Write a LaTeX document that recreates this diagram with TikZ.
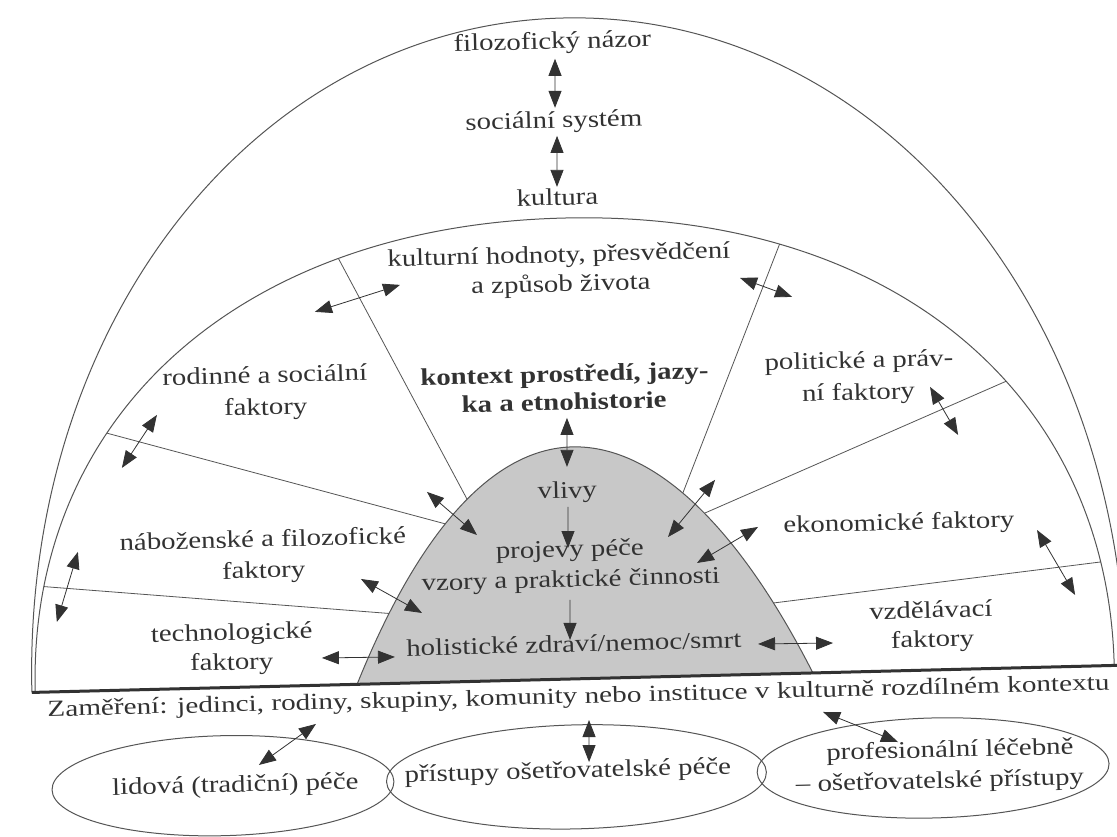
\documentclass[tikz,border=0pt]{standalone}
\usepackage{fontspec}
\setmainfont{Liberation Serif}[FakeStretch=1.2]
\newfontfamily\zamfont{Liberation Serif}[FakeStretch=1.27]
\usetikzlibrary{arrows.meta}
\definecolor{ink}{RGB}{50,50,50}
\definecolor{linec}{RGB}{85,85,85}
\definecolor{domegray}{RGB}{200,200,200}
\begin{document}
\begin{tikzpicture}[x=1pt,y=-1pt,
  lbl/.style={anchor=base, inner sep=0pt, text=ink, font=\fontsize{24}{28}\selectfont},
  lblb/.style={lbl, font=\fontsize{24}{28}\selectfont\bfseries},
  arcline/.style={draw=linec, line width=1pt},
  divline/.style={draw=linec, line width=0.8pt},
  biarr/.style={arrows={Triangle[length=17pt,width=13pt]-Triangle[length=17pt,width=13pt]}, draw=ink, line width=0.8pt},
  onearr/.style={arrows={-Triangle[length=17pt,width=13pt]}, draw=ink, line width=0.8pt}]
\useasboundingbox (0,0) rectangle (1117,836);
\fill[white] (0,0) rectangle (1117,836);
\clip (0,0) rectangle (1117,836);
\begin{scope}[rotate around={1.43:(570,679)}, transform shape]
% outer arc
\draw[arcline] (31.7,679) .. controls (31.7,309) and (272.7,18) .. (579,18)
  .. controls (885.3,18) and (1126,309) .. (1126,679);
% inner arc
\draw[arcline] (35,679) .. controls (35,402.4) and (250.9,218) .. (574.7,218)
  .. controls (898.5,218) and (1114.4,402.4) .. (1114.4,679);
% dividers
\begin{scope}
\clip (35,679) .. controls (35,402.4) and (250.9,218) .. (574.7,218)
  .. controls (898.5,218) and (1114.4,402.4) .. (1114.4,679) -- cycle;
\draw[divline] (482.5,518.4) -- (336,227);
\draw[divline] (676.2,522.8) -- (801.3,223.3);
\draw[divline] (477,529) -- (80.1,411.9);
\draw[divline] (673.6,530.9) -- (1039.9,381.4);
\draw[divline] (418.4,611.8) -- (13.6,570.1);
\draw[divline] (742.1,611.4) -- (1135.7,572);
\end{scope}
% dome
\filldraw[fill=domegray, arcline] (357,679) .. controls (428,515) and (505,447) .. (578,447)
  .. controls (654,447) and (737,520) .. (813,679) -- cycle;
% base line
\draw[draw=ink, line width=3pt] (31.7,679) -- (1135,679);
% bottom ellipses
\draw[arcline] (220.4,777) ellipse [x radius=171, y radius=50];
\draw[arcline] (574,777) ellipse [x radius=190, y radius=52];
\draw[arcline] (930.8,777) ellipse [x radius=176, y radius=50];
% labels
\node[lbl] (filo) at (568.3,48.6) {filozofický názor};
\node[lbl] (soc) at (567.8,127.6) {sociální systém};
\node[lbl] (kult) at (569.4,205) {kultura};
\node[lbl] (hod1) at (569.4,262.2) {kulturní hodnoty, přesvědčení};
\node[lbl] (hod2) at (570.7,291.5) {a způsob života};
\node[lbl] (rod1) at (272.4,375.4) {rodinné a sociální};
\node[lbl] (rod2) at (272.6,407.4) {faktory};
\node[lblb] (ktx1) at (572,382) {kontext prostředí, jazy-};
\node[lblb] (ktx2) at (571,410) {ka a etnohistorie};
\node[lbl] (pol1) at (866.8,375.2) {politické a práv-};
\node[lbl] (pol2) at (865.5,407.2) {ní faktory};
\node[lbl] (vliv) at (572,498) {vlivy};
\node[lbl] (nab1) at (266.3,539.3) {náboženské a filozofické};
\node[lbl] (nab2) at (266.5,570.4) {faktory};
\node[lbl] (eko) at (902.7,538.2) {ekonomické faktory};
\node[lbl] (proj1) at (573,557) {projevy péče};
\node[lbl] (proj2) at (573.3,587) {vzory a praktické činnosti};
\node[lbl] (tech1) at (233,631.6) {technologické};
\node[lbl] (tech2) at (232.2,661.5) {faktory};
\node[lbl] (hol) at (574.7,652) {holistické zdraví/nemoc/smrt};
\node[lbl] (vzd1) at (932.5,627) {vzdělávací};
\node[lbl] (vzd2) at (933.3,656.1) {faktory};
\node[lbl, font=\zamfont\fontsize{23}{28}\selectfont] (zam) at (578,703.5) {Zaměření: jedinci, rodiny, skupiny, komunity nebo instituce v kulturně rozdílném kontextu};
\node[lbl] (lid) at (232.7,783.6) {lidová (tradiční) péče};
\node[lbl] (pris) at (565.5,778) {přístupy ošetřovatelské péče};
\node[lbl] (prof1) at (948,766.5) {profesionální léčebně};
\node[lbl] (prof2) at (937.3,797.3) {– ošetřovatelské přístupy};
% arrow end points
\coordinate (a1s) at (570.5,58.6);  \coordinate (a1e) at (569.3,107.6);
\coordinate (a2s) at (570.6,135.7); \coordinate (a2e) at (569.3,186.7);
\coordinate (a3s) at (324.2,305.6); \coordinate (a3e) at (409.9,280.75);
\coordinate (a4s) at (750,282.25);  \coordinate (a4e) at (801.6,302.55);
\coordinate (a5s) at (937.3,396);   \coordinate (a5e) at (964.1,444.7);
\coordinate (a6s) at (163.6,404.7); \coordinate (a6e) at (127.3,456.8);
\coordinate (a7s) at (573.5,417.9); \coordinate (a7e) at (572.3,466.9);
\coordinate (a8s) at (431.7,488.4); \coordinate (a8e) at (480.6,532.7);
\coordinate (a9s) at (720,483.6);   \coordinate (a9e) at (671.6,539.5);
\coordinate (a10s) at (572.3,507);  \coordinate (a10e) at (571.3,548);
\coordinate (a11s) at (761.8,531.7); \coordinate (a11e) at (699.9,566.2);
\coordinate (a12s) at (1040.7,541.7); \coordinate (a12e) at (1077.1,607.6);
\coordinate (a13s) at (81.2,539.7); \coordinate (a13e) at (58.4,609.2);
\coordinate (a14s) at (363.5,573.8); \coordinate (a14e) at (423.7,609.3);
\coordinate (a15s) at (572,600);    \coordinate (a15e) at (571,640);
\coordinate (a16s) at (322.5,651.8); \coordinate (a16e) at (395.55,652.6);
\coordinate (a17s) at (758.9,648.7); \coordinate (a17e) at (833.9,649.6);
\coordinate (a18s) at (314.9,717.65); \coordinate (a18e) at (256.85,757.2);
\coordinate (a19s) at (588,720.5);  \coordinate (a19e) at (587,762.5);
\coordinate (a20s) at (822.2,718.3); \coordinate (a20e) at (896.4,750.2);
\draw[biarr] (a1s) -- (a1e);
\draw[biarr] (a2s) -- (a2e);
\draw[biarr] (a3s) -- (a3e);
\draw[biarr] (a4s) -- (a4e);
\draw[biarr] (a5s) -- (a5e);
\draw[biarr] (a6s) -- (a6e);
\draw[biarr] (a7s) -- (a7e);
\draw[biarr] (a8s) -- (a8e);
\draw[biarr] (a9s) -- (a9e);
\draw[onearr] (a10s) -- (a10e);
\draw[biarr] (a11s) -- (a11e);
\draw[biarr] (a12s) -- (a12e);
\draw[biarr] (a13s) -- (a13e);
\draw[biarr] (a14s) -- (a14e);
\draw[onearr] (a15s) -- (a15e);
\draw[biarr] (a16s) -- (a16e);
\draw[biarr] (a17s) -- (a17e);
\draw[biarr] (a18s) -- (a18e);
\draw[biarr] (a19s) -- (a19e);
\draw[biarr] (a20s) -- (a20e);
\end{scope}
\end{tikzpicture}
\end{document}
